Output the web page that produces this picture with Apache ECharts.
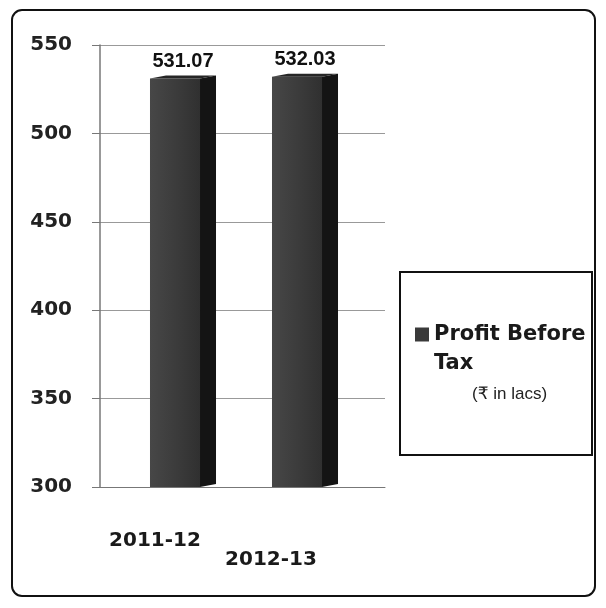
<!DOCTYPE html>
<html>
<head>
<meta charset="utf-8">
<script src="https://cdn.jsdelivr.net/npm/echarts@6/dist/echarts.min.js"></script>
<style>html,body{margin:0;padding:0;background:#fff;}#c{width:606px;height:608px;}</style>
</head>
<body>
<div id="c"></div>
<script>
const categories = ['2011-12', '2012-13'];
const profitBeforeTax = [531.07, 532.03];
const seriesName = 'Profit Before Tax';
const unitNote = '(₹ in lacs)';
const yMin = 300, yMax = 550, yStep = 50;

const chart = echarts.init(document.getElementById('c'), null, {renderer: 'canvas'});

const frontFill = new echarts.graphic.LinearGradient(0, 0, 1, 0, [
  {offset: 0, color: '#474747'}, {offset: 0.5, color: '#3c3c3c'}, {offset: 1, color: '#303030'}
]);

chart.setOption({
  backgroundColor: '#fff',
  animation: false,
  grid: [
    {left: 100, top: 45, width: 285, height: 442, containLabel: false},
    {left: 114, top: 45, width: 244, height: 442, containLabel: false}
  ],
  xAxis: [
    {gridIndex: 0, type: 'category', data: categories, show: true,
     axisLine: {show: true, lineStyle: {color: '#777', width: 1}},
     axisTick: {show: false}, axisLabel: {show: false}},
    {gridIndex: 1, type: 'category', data: categories,
     axisLine: {show: false}, axisTick: {show: false},
     axisLabel: {
       interval: 0, margin: 44,
       formatter: (v, i) => i === 0 ? '{a|' + v + '}' : '{b|' + v + '}',
       rich: {
         a: {fontFamily: 'DejaVu Sans', fontWeight: 'bold', fontSize: 20, color: '#1a1a1a', padding: [0, 40, 0, 0]},
         b: {fontFamily: 'DejaVu Sans', fontWeight: 'bold', fontSize: 20, color: '#1a1a1a', padding: [19, 52, 0, 0]}
       }
     }}
  ],
  yAxis: [
    {gridIndex: 0, type: 'value', min: yMin, max: yMax, interval: yStep,
     axisLine: {show: true, lineStyle: {color: '#777', width: 1.5}},
     axisTick: {show: true, length: 8, lineStyle: {color: '#777'}},
     axisLabel: {margin: 28, fontFamily: 'DejaVu Sans', fontWeight: 'bold', fontSize: 20, color: '#222'},
     splitLine: {show: true, lineStyle: {color: '#999', width: 1}}},
    {gridIndex: 1, type: 'value', min: yMin, max: yMax, interval: yStep, show: false}
  ],
  legend: {
    data: [seriesName], left: 415, top: 324, padding: 0,
    icon: 'rect', itemWidth: 14, itemHeight: 14,
    formatter: () => 'Profit Before',
    textStyle: {fontFamily: 'DejaVu Sans', fontWeight: 'bold', fontSize: 21, color: '#1a1a1a'}
  },
  graphic: [
    {type: 'rect', z: -1, shape: {x: 12, y: 10, width: 583, height: 586, r: 10},
     style: {fill: 'none', stroke: '#111', lineWidth: 2}},
    {type: 'rect', z: -1, shape: {x: 400, y: 272, width: 192, height: 183},
     style: {fill: '#fff', stroke: '#111', lineWidth: 2}},
    {type: 'text', x: 434, y: 364,
     style: {text: 'Tax', fontFamily: 'DejaVu Sans', fontWeight: 'bold', fontSize: 21, fill: '#1a1a1a', verticalAlign: 'middle'}},
    {type: 'text', x: 472, y: 394,
     style: {text: unitNote, fontFamily: 'Liberation Sans, DejaVu Sans', fontSize: 17, fill: '#222', verticalAlign: 'middle'}}
  ],
  series: [{
    name: seriesName,
    type: 'custom',
    xAxisIndex: 1, yAxisIndex: 1,
    itemStyle: {color: '#3a3a3a'},
    data: profitBeforeTax.map((v, i) => [i, v]),
    renderItem: function (params, api) {
      const v = api.value(1);
      const top = api.coord([api.value(0), v]);
      const base = api.coord([api.value(0), yMin]);
      const bw = api.size([1, 0])[0] * 0.41;
      const d = 16, dy = 3;
      const l = top[0] - bw / 2, r = top[0] + bw / 2;
      return {
        type: 'group',
        children: [
          {type: 'rect', shape: {x: l, y: top[1], width: bw, height: base[1] - top[1]},
           style: {fill: frontFill}},
          {type: 'polygon', shape: {points: [[r, top[1]], [r + d, top[1] - dy], [r + d, base[1] - dy], [r, base[1]]]},
           style: {fill: '#141414'}},
          {type: 'polygon', shape: {points: [[l, top[1]], [l + d, top[1] - dy], [r + d, top[1] - dy], [r, top[1]]]},
           style: {fill: '#262626'}},
          {type: 'text', style: {text: v.toFixed(2), x: (l + r + d) / 2, y: top[1] - 7,
            align: 'center', verticalAlign: 'bottom',
            fontFamily: 'Liberation Sans', fontWeight: 'bold', fontSize: 20, fill: '#111'}}
        ]
      };
    }
  }]
});
</script>
</body>
</html>
